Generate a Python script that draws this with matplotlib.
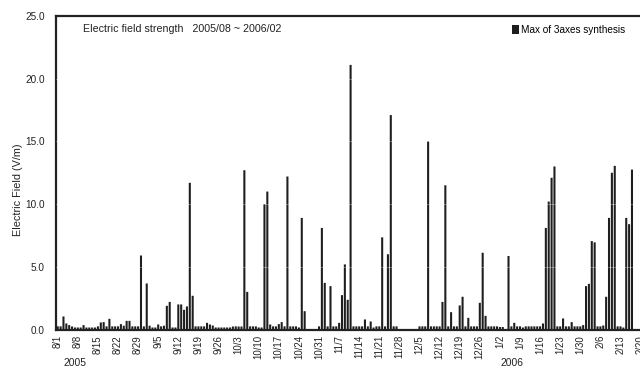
import matplotlib
matplotlib.use("Agg")
import matplotlib.pyplot as plt
import numpy as np
import datetime as dt

plt.rcParams['font.family'] = ['Liberation Sans', 'DejaVu Sans']

start_date = dt.date(2005, 8, 1)

# Daily maximum of 3-axes synthesis (V/m), from 2005/08/01 onwards
values = [
    # Aug 1 - Aug 31
    0.25, 0.25, 1.04, 0.48, 0.35, 0.24, 0.16, 0.16, 0.16, 0.35,
    0.16, 0.16, 0.16, 0.16, 0.25, 0.56, 0.59, 0.25, 0.85, 0.25,
    0.25, 0.25, 0.43, 0.30, 0.69, 0.69, 0.25, 0.25, 0.25, 5.90,
    0.25,
    # Sep 1 - Sep 30
    3.67, 0.30, 0.16, 0.16, 0.40, 0.25, 0.30, 1.89, 2.20, 0.16,
    0.16, 2.00, 2.00, 1.57, 1.84, 11.70, 2.69, 0.25, 0.25, 0.25,
    0.25, 0.53, 0.40, 0.32, 0.16, 0.16, 0.16, 0.16, 0.16, 0.16,
    # Oct 1 - Oct 31
    0.24, 0.25, 0.24, 0.24, 12.70, 3.00, 0.25, 0.25, 0.25, 0.16,
    0.16, 10.00, 11.00, 0.40, 0.25, 0.25, 0.43, 0.59, 0.25, 12.20,
    0.25, 0.25, 0.25, 0.16, 8.90, 1.46, 0.0, 0.0, 0.0, 0.0,
    0.25,
    # Nov 1 - Nov 30
    8.10, 3.72, 0.25, 3.46, 0.25, 0.25, 0.53, 2.74, 5.19, 2.37,
    21.10, 0.25, 0.25, 0.25, 0.25, 0.80, 0.25, 0.64, 0.16, 0.25,
    0.25, 7.35, 0.25, 6.00, 17.10, 0.25, 0.25, 0.0, 0.0, 0.0,
    # Dec 1 - Dec 31
    0.0, 0.0, 0.0, 0.0, 0.25, 0.25, 0.25, 15.00, 0.25, 0.25,
    0.25, 0.25, 2.20, 11.50, 0.25, 1.38, 0.25, 0.25, 1.92, 2.61,
    0.25, 0.93, 0.25, 0.25, 0.25, 2.13, 6.12, 1.09, 0.25, 0.25,
    0.25,
    # Jan 1 - Jan 31
    0.25, 0.20, 0.20, 0.0, 5.86, 0.25, 0.53, 0.25, 0.25, 0.16,
    0.25, 0.25, 0.25, 0.25, 0.25, 0.25, 0.48, 8.10, 10.20, 12.10,
    13.00, 0.25, 0.25, 0.88, 0.25, 0.25, 0.59, 0.25, 0.25, 0.25,
    0.35,
    # Feb 1 - Feb 17
    3.46, 3.64, 7.05, 6.95, 0.25, 0.25, 0.32, 2.61, 8.90, 12.50,
    13.05, 0.25, 0.25, 0.16, 8.90, 8.40, 12.75,
]

n_days_axis = 212  # Aug 1 2005 .. Feb 28 2006
tick_days = list(range(0, n_days_axis, 7))
tick_labels = [f"{(start_date + dt.timedelta(days=d)).month}/{(start_date + dt.timedelta(days=d)).day}"
               for d in tick_days]
y_ticks = [0, 5, 10, 15, 20, 25]
y_tick_labels = ["0.0", "5.0", "10.0", "15.0", "20.0", "25.0"]

fig = plt.figure(figsize=(6.4, 3.68), dpi=100)
ax = fig.add_axes([56/640, 38.5/368, (665-56)/640, (329.5-16)/368])

days = np.arange(len(values))
bars = ax.bar(days, values, width=0.72, color='#1e1e1e', linewidth=0,
              label='Max of 3axes synthesis', zorder=2)
for b in bars:
    b.set_snap(False)

ax.set_xlim(-0.6, 211.5)
ax.set_ylim(0, 25)
ax.set_yticks(y_ticks)
ax.set_yticklabels(y_tick_labels, fontsize=7.2, color='#222222')
ax.set_xticks(tick_days)
ax.set_xticklabels(tick_labels, rotation=90, fontsize=6.9, color='#222222',
                   ha='center', va='top')
ax.tick_params(axis='both', length=0)
ax.tick_params(axis='y', pad=8)
ax.tick_params(axis='x', pad=4)

# faint gridlines visible only through bars
for yv in [5, 10, 15, 20]:
    ax.axhline(yv, color='white', lw=0.5, alpha=0.45, zorder=3)

for side in ['left', 'bottom', 'top']:
    ax.spines[side].set_linewidth(1.6)
    ax.spines[side].set_color('#222222')
ax.spines['right'].set_visible(False)

fig.text(18/640, 1 - 190/368, "Electric Field (V/m)", rotation=90,
         ha='center', va='center', fontsize=7.8, color='#222222')
fig.text(83/640, 1 - 29/368, "Electric field strength   2005/08 ~ 2006/02",
         ha='left', va='center', fontsize=7.7, color='#222222')
fig.text(75/640, 1 - 363/368, "2005", ha='center', va='center', fontsize=7.4, color='#222222')
fig.text(512/640, 1 - 363/368, "2006", ha='center', va='center', fontsize=7.4, color='#222222')

fig.legend(handles=[bars], loc='upper right', bbox_to_anchor=(625/640, 1 - 25/368),
           frameon=False, fontsize=7.2, handlelength=0.7, handleheight=0.9,
           handletextpad=0.2, borderaxespad=0, borderpad=0)

fig.savefig("out.png", dpi=100)
